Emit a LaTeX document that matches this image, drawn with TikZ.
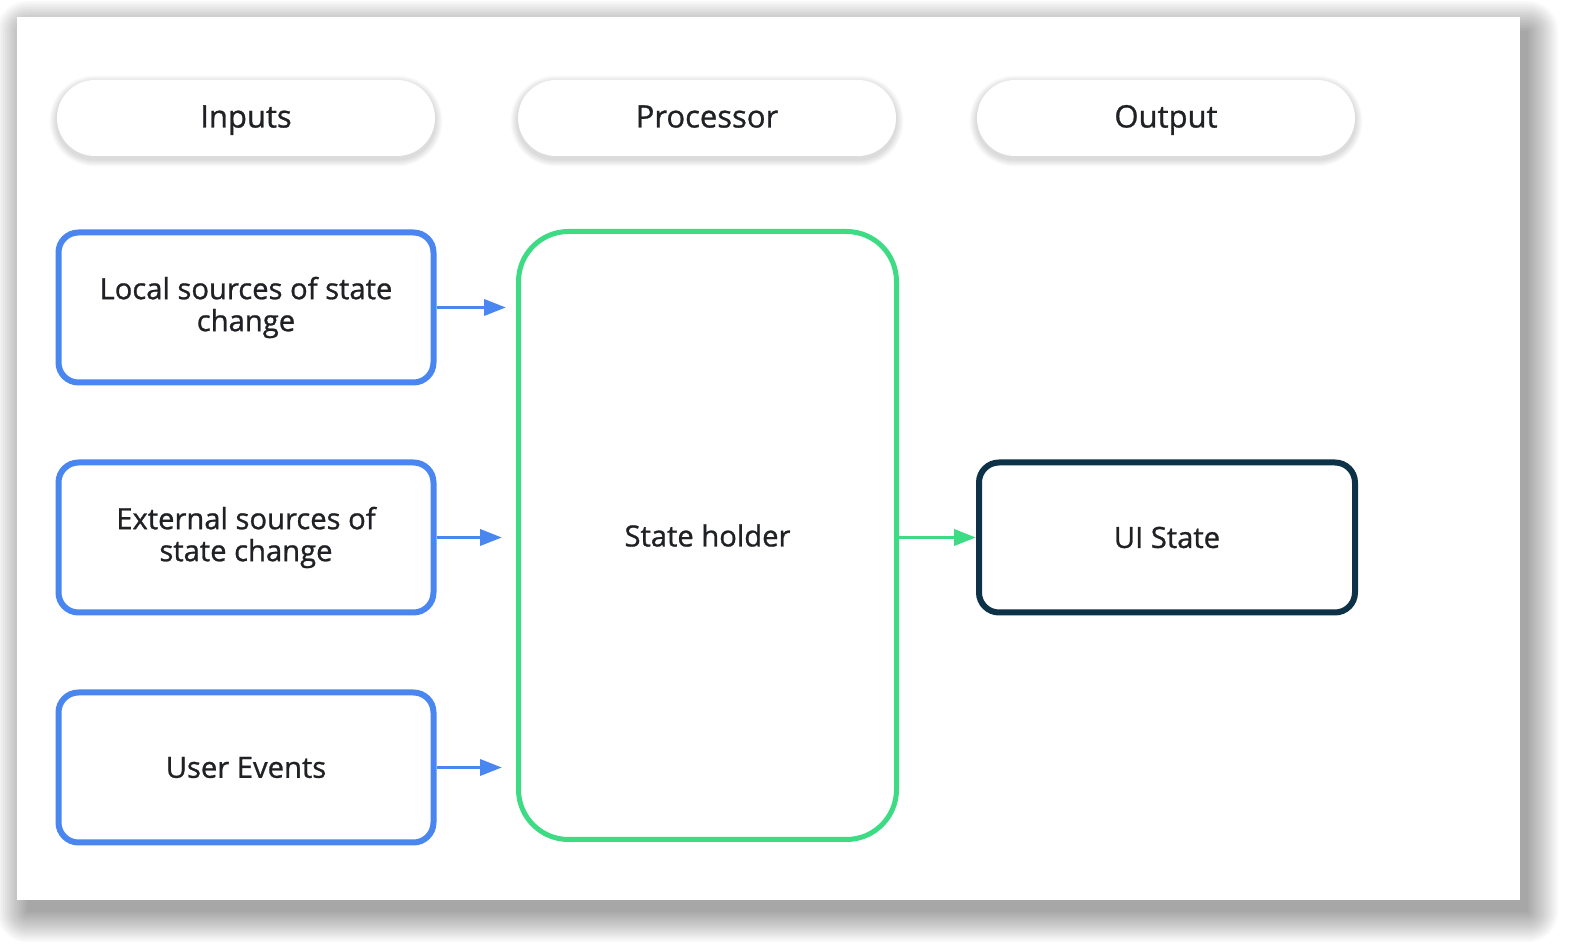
\documentclass[tikz,border=0pt]{standalone}
\usepackage{fontspec}
\setmainfont{Open Sans}[FakeBold=0.9]
\usepackage{xcolor}
\usetikzlibrary{positioning, arrows.meta, backgrounds}
\definecolor{inblue}{HTML}{4A86F0}
\definecolor{holdgreen}{HTML}{3DDC84}
\definecolor{uinavy}{HTML}{0D3247}
\definecolor{inktext}{HTML}{202124}
\tikzset{
    header/.style={rectangle, rounded corners=19pt, fill=white, minimum width=189pt, minimum height=38pt, text=inktext, text height=0.95em, text depth=0pt, font=\fontsize{15.5}{18}\selectfont},
    source/.style={rectangle, rounded corners=10pt, draw=inblue, line width=3pt, fill=white, minimum width=187.5pt, minimum height=75pt, align=center, text=inktext, font=\fontsize{14.6}{16}\selectfont},
    holder/.style={rectangle, rounded corners=25pt, draw=holdgreen, line width=2.5pt, fill=white, minimum width=189pt, minimum height=304pt, text=inktext, font=\fontsize{14.6}{17}\selectfont},
    result/.style={rectangle, rounded corners=10pt, draw=uinavy, line width=3pt, fill=white, minimum width=188pt, minimum height=75pt, text=inktext, font=\fontsize{14.6}{17}\selectfont},
    arrow/.style={-{Triangle[length=11pt, width=8pt]}, line width=1.8pt},
    haze/.style={fill=black, opacity=#1}
}
\begin{document}
\begin{tikzpicture}[x=0.5pt, y=-0.5pt]
    \useasboundingbox (0,0) rectangle (1571,951);

    % Headers
    \node[header] (Inputs) at (246,118) {Inputs};
    \node[header] (Processor) at (707,118) {Processor};
    \node[header] (Output) at (1166,118) {Output};

    % Inputs
    \node[source] (Local) at (246,307.5) {Local sources of state\\change};
    \node[source, below=37pt of Local] (External) {External sources of\\state change};
    \node[source, below=37pt of External] (UserEvents) {User Events};

    % Processor and output
    \node[holder] (Holder) at (707.5,535.5) {State holder};
    \node[result] (UIState) at (1167,537.5) {UI State};

    \draw[arrow, inblue, shorten >=5pt] (Local.east) -- (Local.east -| Holder.west);
    \draw[arrow, inblue, shorten >=7pt] (External.east) -- (External.east -| Holder.west);
    \draw[arrow, inblue, shorten >=7pt] (UserEvents.east) -- (UserEvents.east -| Holder.west);
    \draw[arrow, holdgreen] (Holder.east |- UIState.west) -- (UIState.west);

    % Panel and soft shadows
    \begin{scope}[on background layer]
        \fill[white] (0,0) rectangle (1571,951);
        \foreach \e in {0,2,...,30}
            \fill[haze=0.022, rounded corners=\e*0.5pt] (27-\e,31-\e) rectangle (1528+\e,912+\e);
        \fill[white] (17,17) rectangle (1520,900);
        \foreach \p in {Inputs,Processor,Output}
            \foreach \e in {1,...,7}
                \fill[haze=0.018, rounded corners=19pt+\e*0.5pt] ([xshift=-\e*0.5pt, yshift=-\e*0.5pt-1.5pt]\p.south west) rectangle ([xshift=\e*0.5pt, yshift=\e*0.5pt-1.5pt]\p.north east);
    \end{scope}
\end{tikzpicture}
\end{document}
